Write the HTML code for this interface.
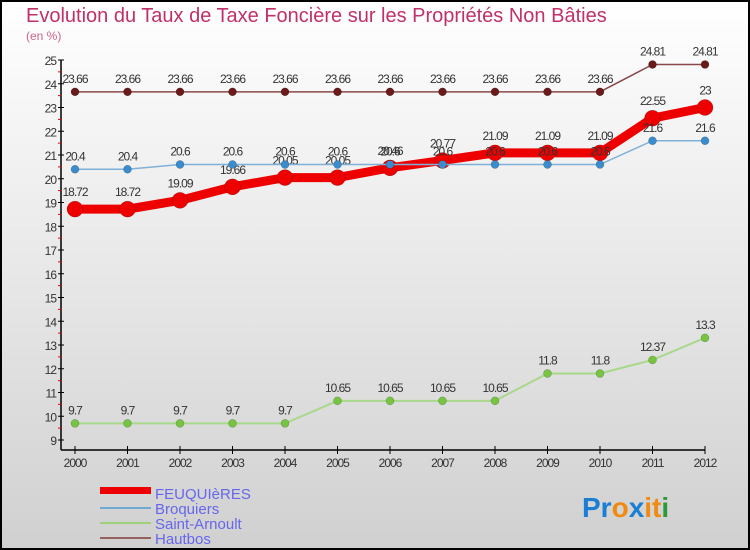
<!DOCTYPE html>
<html><head><meta charset="utf-8"><style>
body{margin:0;width:750px;height:550px;overflow:hidden}
svg{display:block;font-family:"Liberation Sans",sans-serif}
</style></head><body>
<svg id="c" width="750" height="550">
<defs><linearGradient id="bg" x1="0" y1="0" x2="0" y2="1"><stop offset="0" stop-color="#ffffff"/><stop offset="1" stop-color="#d0d0d0"/></linearGradient></defs>
<rect x="1" y="1" width="748" height="548" fill="url(#bg)" stroke="#000" stroke-width="2"/>
<text x="26" y="22" font-size="20" fill="#c0306a">Evolution du Taux de Taxe Foncière sur les Propriétés Non Bâties</text>
<text x="26" y="40" font-size="12" fill="#d0608a">(en %)</text>
<g id="axes"></g><g id="series"></g>
<g>
<rect x="100" y="487" width="51" height="7" fill="#e00"/>
<text x="155" y="499" font-size="15" fill="#6666ee">FEUQUIèRES</text>
<rect x="100" y="507" width="51" height="2" fill="#6fa8d0"/>
<text x="155" y="514" font-size="15" fill="#6666ee">Broquiers</text>
<rect x="100" y="522" width="51" height="2" fill="#9ed27a"/>
<text x="155" y="529" font-size="15" fill="#6666ee">Saint-Arnoult</text>
<rect x="100" y="537" width="51" height="2" fill="#946060"/>
<text x="155" y="544" font-size="15" fill="#6666ee">Hautbos</text>
</g>
<text x="582" y="517" font-size="28" font-weight="bold"><tspan fill="#1a7fd4">Pr</tspan><tspan fill="#f08a10">o</tspan><tspan fill="#1a7fd4">x</tspan><tspan fill="#f08a10">i</tspan><tspan fill="#f08a10">t</tspan><tspan fill="#2a9a3a">i</tspan></text>
</svg>
<script>
const years=["2000","2001","2002","2003","2004","2005","2006","2007","2008","2009","2010","2011","2012"];
const feuquieres=[18.72,18.72,19.09,19.66,20.05,20.05,20.46,20.77,21.09,21.09,21.09,22.55,23];
const broquiers=[20.4,20.4,20.6,20.6,20.6,20.6,20.6,20.6,20.6,20.6,20.6,21.6,21.6];
const saintArnoult=[9.7,9.7,9.7,9.7,9.7,10.65,10.65,10.65,10.65,11.8,11.8,12.37,13.3];
const hautbos=[23.66,23.66,23.66,23.66,23.66,23.66,23.66,23.66,23.66,23.66,23.66,24.81,24.81];
const yTicks=[9,10,11,12,13,14,15,16,17,18,19,20,21,22,23,24,25];
const NS="http://www.w3.org/2000/svg";
const yMin=9,yMax=25,yTop=60,yBot=440,x0=75,x1=705;
const X=i=>x0+(x1-x0)*i/(years.length-1);
const Y=v=>yBot-(v-yMin)*(yBot-yTop)/(yMax-yMin);
function mk(t,a,p){const e=document.createElementNS(NS,t);for(const k in a)e.setAttribute(k,a[k]);p.appendChild(e);return e;}
const ax=document.getElementById('axes');
let l=mk('line',{x1:61,y1:yTop,x2:61,y2:450,stroke:'#000','stroke-width':1.5},ax);


l=mk('line',{x1:61,y1:450,x2:x1,y2:450,stroke:'#000','stroke-width':1.5},ax);


yTicks.forEach(v=>{
  mk('line',{x1:58,y1:Y(v),x2:64,y2:Y(v),stroke:'#000'},ax);
  if(v<yMax)mk('line',{x1:58,y1:Y(v+0.5),x2:61,y2:Y(v+0.5),stroke:'#e00'},ax);
  const t=mk('text',{x:56,y:Y(v)+5,'font-size':12,'text-anchor':'end',fill:'#333','letter-spacing':'-1'},ax);
  t.textContent=v;
  
  
});
years.forEach((y,i)=>{
  mk('line',{x1:X(i),y1:446,x2:X(i),y2:454,stroke:'#000'},ax);
  const t=mk('text',{x:X(i),y:467,'font-size':12,'text-anchor':'middle',fill:'#333','letter-spacing':'-1'},ax);
  t.textContent=y;
  
  
});
const sg=document.getElementById('series');
function draw(name,data,color,w,r,dot){
  const g=mk('g',{},sg);
  
  
  const pl=mk('polyline',{points:data.map((v,i)=>X(i)+','+Y(v)).join(' '),fill:'none',stroke:color,'stroke-width':w,'stroke-linejoin':'round'},g);
  
  
  data.forEach((v,i)=>{
    const c=mk('circle',{cx:X(i),cy:Y(v),r:r,fill:dot,stroke:'rgba(0,0,0,0.3)','stroke-width':0.5},g);
    
    
    const t=mk('text',{x:X(i),y:Y(v)-r-5,'font-size':12,'text-anchor':'middle',fill:'#333','letter-spacing':'-1'},g);
    t.textContent=v;
    
    
  });
}
draw('feuquieres',feuquieres,'#e00',9,8,'#e00');
draw('broquiers',broquiers,'#7fb0d8',1.5,4,'#3a8ccc');
draw('saint-arnoult',saintArnoult,'#a8d88a',2,4,'#76c442');
draw('hautbos',hautbos,'#8a4848',1.5,4,'#6a1a1a');
</script>
</body></html>
